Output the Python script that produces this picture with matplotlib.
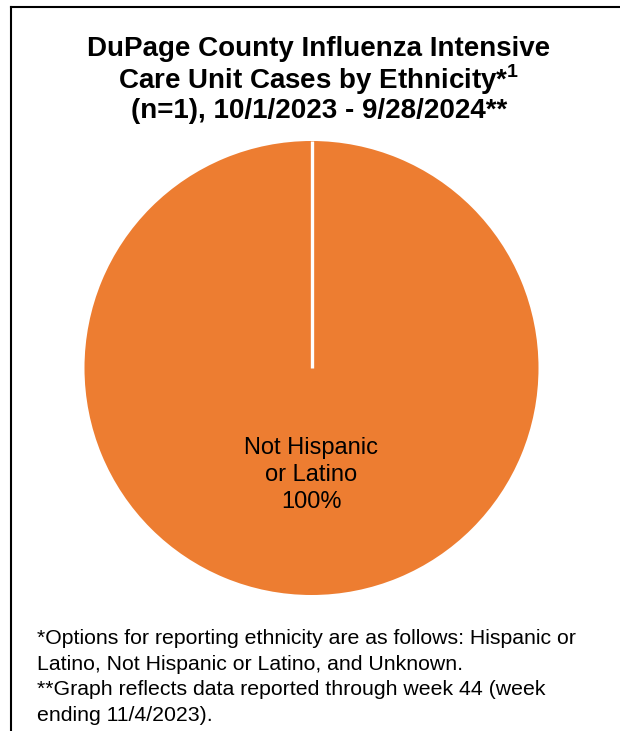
"""
Pie chart of DuPage County influenza ICU cases by ethnicity.
"""

import numpy as np
import matplotlib
matplotlib.use("Agg")
import matplotlib.pyplot as plt
from matplotlib.lines import Line2D

OUT_PATH = "out.png"

categories = ["Not Hispanic\nor Latino"]
counts = [1]

title = ("DuPage County Influenza Intensive\n"
         "Care Unit Cases by Ethnicity*$^{\\mathbf{1}}$\n"
         "(n=1), 10/1/2023 - 9/28/2024**")
footnote = ("*Options for reporting ethnicity are as follows: Hispanic or\n"
            "Latino, Not Hispanic or Latino, and Unknown.\n"
            "**Graph reflects data reported through week 44 (week\n"
            "ending 11/4/2023).")

plt.rcParams["font.family"] = ["Liberation Sans", "DejaVu Sans"]
plt.rcParams["mathtext.fontset"] = "custom"
plt.rcParams["mathtext.bf"] = "Liberation Sans:bold"

W, H = 620, 731
fig = plt.figure(figsize=(W / 100, H / 100), dpi=100)

# pie axes placed in pixel terms: centre (311.5, 368), radius 227
cx, cy, r = 311.5, 368, 227
ax = fig.add_axes([(cx - r) / W, (H - cy - r) / H, 2 * r / W, 2 * r / H])

start = 90
wedges, texts, autotexts = ax.pie(
    counts, colors=["#ED7D31"], startangle=start, counterclock=False,
    labels=None, autopct=lambda p: f"{categories[0]}\n{p:.0f}%",
    pctdistance=0.472,
    textprops=dict(fontsize=17, color="black", linespacing=1.28),
    wedgeprops=dict(linewidth=0))

# white boundary line where the single wedge starts
ang = np.radians(start)
ax.plot([0, np.cos(ang)], [0, np.sin(ang)], color="white", linewidth=2.4,
        solid_capstyle="butt")
ax.set_xlim(-1, 1)
ax.set_ylim(-1, 1)
ax.axis("off")

fig.text(319 / W, 1 - 80 / H, title, ha="center", va="center",
         fontsize=20, fontweight="bold", linespacing=1.03)

fig.text(37 / W, 1 - 677 / H, footnote, ha="left", va="center",
         fontsize=15.3, linespacing=1.44)

# frame: left and top edges
fig.add_artist(Line2D([11 / W, 11 / W], [0, 1 - 7 / H], color="black",
                      linewidth=1.5, transform=fig.transFigure))
fig.add_artist(Line2D([11 / W, 1], [1 - 7 / H, 1 - 7 / H], color="black",
                      linewidth=1.5, transform=fig.transFigure))

fig.savefig(OUT_PATH, dpi=100)
print(f"Saved {OUT_PATH}")
